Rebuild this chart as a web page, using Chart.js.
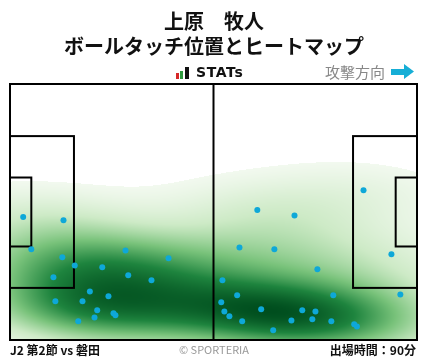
<!DOCTYPE html>
<html><head><meta charset="utf-8">
<script src="https://cdn.jsdelivr.net/npm/chart.js@4.4.1/dist/chart.umd.min.js"></script>
<style>
html,body{margin:0;padding:0;background:#fff;width:428px;height:359px;overflow:hidden;font-family:"Noto Sans CJK JP","Noto Sans",sans-serif;}
#wrap{position:relative;width:428px;height:359px;}
canvas{position:absolute;left:0;top:0;}
.t{position:absolute;white-space:nowrap;color:#111;}
</style></head>
<body><div id="wrap">
<canvas id="c" width="428" height="359"></canvas>
<div class="t" id="t1" style="left:0;width:428px;text-align:center;top:7px;font-weight:700;font-size:20px;line-height:28px;">上原　牧人</div>
<div class="t" id="t2" style="left:0;width:428px;text-align:center;top:32px;font-weight:700;font-size:20px;line-height:28px;">ボールタッチ位置とヒートマップ</div>
<div class="t" style="left:176px;top:66px;height:14px;width:80px;">
  <span style="position:absolute;left:0;top:7px;width:3px;height:6px;background:#d62828;"></span>
  <span style="position:absolute;left:4px;top:5px;width:3px;height:8px;background:#2e9a3e;"></span>
  <span style="position:absolute;left:9px;top:1px;width:4px;height:12px;background:#111;"></span>
  <span style="position:absolute;left:20px;top:-3px;font-family:'DejaVu Sans',sans-serif;font-weight:700;font-size:14px;line-height:18px;letter-spacing:0.6px;">STATs</span>
</div>
<div class="t" style="left:325px;top:62px;font-size:15px;line-height:20px;color:#888;">攻撃方向</div>
<svg style="position:absolute;left:391px;top:63px" width="24" height="18"><polygon points="0,6 13,6 13,1 23,8.5 13,16 13,12 0,12" fill="#16aed6"/></svg>
<div class="t" style="left:10px;top:341px;font-weight:700;font-size:12px;line-height:17px;">J2 第2節 vs 磐田</div>
<div class="t" style="left:0;width:428px;text-align:center;top:341px;font-size:11px;line-height:16px;color:#999;">© SPORTERIA</div>
<div class="t" style="right:12px;top:341px;font-weight:700;font-size:12px;line-height:17px;">出場時間：90分</div>
</div>
<script>
// touch positions in pitch metres (x: 0-105 attack left->right, y: 0-68 from bottom)
const touchX = [3.4,13.8,5.5,13.5,16.7,11.2,29.8,40.9,23.8,30.5,36.5,20.6,25.4,11.7,18.7,22.5,26.7,27.2,21.8,17.6,
  63.8,73.4,91.2,59.2,68.2,79.3,54.8,58.6,83.4,98.4,100.7,54.5,55.3,56.6,59.9,64.8,75.4,78.8,72.6,78.0,82.9,67.9,88.8,89.5];
const touchY = [32.7,31.8,24.1,22.0,19.8,16.7,23.8,21.7,19.3,17.2,15.9,12.9,11.6,10.3,10.3,7.9,7.1,6.6,6.0,5.0,
  34.5,33.1,39.8,24.6,24.1,18.8,15.9,11.9,11.9,22.8,12.1,10.0,7.6,6.3,5.0,8.2,7.9,7.6,5.2,5.5,5.0,2.6,4.2,3.6];
const pitchLength = 105, pitchWidth = 68;

const points = touchX.map((x,i)=>({x:x,y:touchY[i]}));

// KDE heatmap plugin (gaussian kernel, Scott bandwidth, full covariance)
const heatPlugin = {
  id:'heat',
  beforeDatasetsDraw(chart){
    const {ctx, chartArea:a, scales:{x:sx,y:sy}} = chart;
    const n = touchX.length;
    let mx=0,my=0; for(let i=0;i<n;i++){mx+=touchX[i];my+=touchY[i];} mx/=n;my/=n;
    let cxx=0,cyy=0,cxy=0;
    for(let i=0;i<n;i++){const dx=touchX[i]-mx,dy=touchY[i]-my;cxx+=dx*dx;cyy+=dy*dy;cxy+=dx*dy;}
    cxx/=(n-1);cyy/=(n-1);cxy/=(n-1);
    const f = Math.pow(n,-1/6)*1.2, f2=f*f;
    const kxx=cxx*f2, kyy=cyy*f2, kxy=cxy*f2;
    const det = kxx*kyy-kxy*kxy;
    const ixx=kyy/det, iyy=kxx/det, ixy=-kxy/det;
    const W=Math.round(a.right-a.left), H=Math.round(a.bottom-a.top);
    const dens = new Float32Array(W*H); let max=0;
    for(let py=0;py<H;py++){
      const vy = sy.getValueForPixel(a.top+py+0.5);
      for(let px=0;px<W;px++){
        const vx = sx.getValueForPixel(a.left+px+0.5);
        let s=0;
        for(let i=0;i<n;i++){
          const dx=vx-touchX[i], dy=vy-touchY[i];
          s+=Math.exp(-0.5*(ixx*dx*dx+2*ixy*dx*dy+iyy*dy*dy));
        }
        dens[py*W+px]=s; if(s>max)max=s;
      }
    }
    const stops=[[0,[242,249,239]],[0.2,[205,234,198]],[0.45,[120,194,122]],[0.72,[30,132,62]],[1,[0,78,30]]];
    const thr=0.045;
    const off=document.createElement('canvas'); off.width=W; off.height=H;
    const octx=off.getContext('2d'); const img=octx.createImageData(W,H);
    for(let k=0;k<W*H;k++){
      const t=dens[k]/max; let r=255,g=255,b=255,al=0;
      if(t>=thr){
        const u=(t-thr)/(1-thr);
        let j=0; while(j<stops.length-2 && u>stops[j+1][0]) j++;
        const s0=stops[j],s1=stops[j+1]; const w=(u-s0[0])/(s1[0]-s0[0]);
        r=s0[1][0]+(s1[1][0]-s0[1][0])*w; g=s0[1][1]+(s1[1][1]-s0[1][1])*w; b=s0[1][2]+(s1[1][2]-s0[1][2])*w; al=255;
      }
      img.data[k*4]=r;img.data[k*4+1]=g;img.data[k*4+2]=b;img.data[k*4+3]=al;
    }
    octx.putImageData(img,0,0);
    ctx.drawImage(off,a.left,a.top);
  }
};

// pitch markings plugin
const pitchPlugin = {
  id:'pitch',
  beforeDatasetsDraw(chart){
    const {ctx, scales:{x:sx,y:sy}} = chart;
    const X=v=>sx.getPixelForValue(v), Y=v=>sy.getPixelForValue(v);
    const rect=(x0,y0,x1,y1)=>{ctx.strokeRect(X(x0),Y(y1),X(x1)-X(x0),Y(y0)-Y(y1));};
    ctx.save(); ctx.strokeStyle='#000'; ctx.lineWidth=2;
    rect(0,0,pitchLength,pitchWidth);
    ctx.beginPath(); ctx.moveTo(X(pitchLength/2),Y(0)); ctx.lineTo(X(pitchLength/2),Y(pitchWidth)); ctx.stroke();
    const pw=40.32, pd=16.5, gw=18.32, gd=5.5, c=pitchWidth/2;
    rect(0,c-pw/2,pd,c+pw/2); rect(pitchLength-pd,c-pw/2,pitchLength,c+pw/2);
    rect(0,c-gw/2,gd,c+gw/2); rect(pitchLength-gd,c-gw/2,pitchLength,c+gw/2);
    ctx.restore();
  }
};

new Chart(document.getElementById('c'),{
  type:'scatter',
  data:{datasets:[{data:points,backgroundColor:'#0ea8d8',borderWidth:0,pointRadius:3,pointHoverRadius:3}]},
  options:{
    responsive:false,animation:false,devicePixelRatio:1,
    layout:{padding:{left:10,top:84,right:11,bottom:19}},
    scales:{x:{type:'linear',min:0,max:pitchLength,display:false},y:{type:'linear',min:0,max:pitchWidth,display:false}},
    plugins:{legend:{display:false},tooltip:{enabled:false},title:{display:false}}
  },
  plugins:[heatPlugin,pitchPlugin]
});
</script>
</body></html>
